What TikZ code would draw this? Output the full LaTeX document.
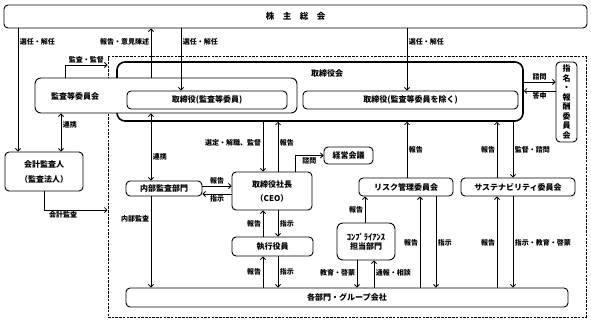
\documentclass[tikz,border=0pt]{standalone}
\usepackage{fontspec}
\setmainfont{Noto Sans CJK JP}
\usepackage{tikz}
\usetikzlibrary{arrows.meta}

\begin{document}
\begin{tikzpicture}[x=1pt, y=-1pt, >={Straight Barb[length=2.5pt,width=5pt]},
    box/.style={draw, rounded corners=4pt, fill=white, line width=0.9pt, inner sep=0pt, align=center, font=\bfseries\fontsize{8}{10}\selectfont},
    boxtxt/.style={inner sep=0pt, font=\bfseries\fontsize{8}{10}\selectfont},
    frame/.style={draw, dash pattern=on 2.5pt off 1.2pt, line width=1pt, inner sep=0pt},
    lbl/.style={inner sep=1.5pt, font=\bfseries\fontsize{7}{8}\selectfont},
    conn/.style={->, line width=0.8pt},
    both/.style={<->, line width=0.8pt}]
    \useasboundingbox (0,0) rectangle (591,321);

    % Nodes
    \node[box, minimum width=583pt, minimum height=23pt, font=\bfseries\fontsize{8.5}{10}\selectfont] (gms) at (295.5,16.5) {株　主　総　会};
    \node[frame, minimum width=478pt, minimum height=260pt] (grp) at (347,187) {};
    \node[box, line width=1.6pt, rounded corners=8pt, minimum width=406pt, minimum height=59pt] (board) at (320,91.5) {};
    \node[boxtxt] (boardname) at (327,73) {取締役会};
    \node[box, rounded corners=6pt, minimum width=262pt, minimum height=35pt] (ac) at (166,95.5) {};
    \node[boxtxt] (acname) at (75,96) {監査等委員会};
    \node[box, minimum width=160pt, minimum height=18pt] (acd) at (207,100) {取締役(監査等委員)};
    \node[box, minimum width=215pt, minimum height=18pt] (dir) at (410.5,100) {取締役(監査等委員を除く)};
    \node[box, minimum width=21pt, minimum height=80pt, font=\bfseries\fontsize{8}{9.5}\selectfont] (nom) at (566.5,102) {指\\名\\・\\報\\酬\\委\\員\\会};
    \node[box, minimum width=78pt, minimum height=39pt, font=\bfseries\fontsize{8}{15}\selectfont] (auditor) at (44,171.5) {会計監査人\\（監査法人）};
    \node[box, minimum width=76pt, minimum height=15pt] (ia) at (164,188.5) {内部監査部門};
    \node[box, minimum width=80pt, minimum height=38pt, font=\bfseries\fontsize{8}{14}\selectfont] (ceo) at (272,191) {取締役社長\\（CEO）};
    \node[box, minimum width=49pt, minimum height=17pt] (mgmt) at (348.5,155.5) {経営会議};
    \node[box, minimum width=81pt, minimum height=19pt] (exec) at (272.5,246.5) {執行役員};
    \node[box, minimum width=442pt, minimum height=19pt] (dept) at (347,297.5) {各部門・グループ会社};
    \node[box, minimum width=94pt, minimum height=18pt] (risk) at (406,187) {リスク管理委員会};
    \node[box, minimum width=114pt, minimum height=18pt] (sus) at (518,187) {サステナビリティ委員会};
    \node[box, rounded corners=6pt, minimum width=58pt, minimum height=37pt, font=\bfseries\fontsize{8}{9}\selectfont] (comp) at (366,241.5) {{\fontsize{8.5}{9}\selectfont ｺﾝﾌﾟﾗｲｱﾝｽ}\\担当部門};

    % Arrows
    \draw[conn] (gms.south -| 18,0) -- node[lbl, right, pos=0.11] {選任・解任} (auditor.north -| 18,0);
    \draw[conn] (ac.north -| 65,0) |- node[lbl, above, pos=0.75] {監査・監督} (grp.west |- 0,65);
    \draw[conn] (ac.north -| 151,0) -- node[lbl, left, pos=0.72] {報告・意見陳述} (gms.south -| 151,0);
    \draw[conn] (gms.south -| 181,0) -- node[lbl, right, pos=0.22] {選任・解任} (acd.north -| 181,0);
    \draw[conn] (gms.south -| 407,0) -- node[lbl, right, pos=0.22] {選任・解任} (dir.north -| 407,0);
    \draw[conn] (board.east |- 0,82) -- node[lbl, above] {諮問} (nom.west |- 0,82);
    \draw[conn] (nom.west |- 0,91) -- node[lbl, below] {答申} (board.east |- 0,91);
    \draw[both] (ac.south -| 61,0) -- node[lbl, right, pos=0.3] {連携} (auditor.north -| 61,0);
    \draw[both] (ac.south -| 151,0) -- node[lbl, right, pos=0.65] {連携} (ia.north -| 151,0);
    \draw[conn] (auditor.south -| 44,0) |- node[lbl, below, pos=0.65] {会計監査} (grp.west |- 0,210);
    \draw[conn] (ia.south -| 151,0) -- node[lbl, left, pos=0.25] {内部監査} (dept.north -| 151,0);
    \draw[conn] (ia.east |- 0,186) -- node[lbl, above] {報告} (ceo.west |- 0,186);
    \draw[conn] (ceo.west |- 0,194) -- node[lbl, below] {指示} (ia.east |- 0,194);
    \draw[conn] (board.south -| 263,0) -- node[lbl, left, pos=0.43] {選定・解職、監督} (ceo.north -| 263,0);
    \draw[conn] (ceo.north -| 278,0) -- node[lbl, right, pos=0.57] {報告} (board.south -| 278,0);
    \draw[conn] (ceo.north -| 295,0) |- node[lbl, below, pos=0.75] {諮問} (mgmt.west);
    \draw[conn] (exec.north -| 263,0) -- node[lbl, left] {報告} (ceo.south -| 263,0);
    \draw[conn] (ceo.south -| 278,0) -- node[lbl, right] {指示} (exec.north -| 278,0);
    \draw[conn] (dept.north -| 263,0) -- node[lbl, left] {報告} (exec.south -| 263,0);
    \draw[conn] (exec.south -| 278,0) -- node[lbl, right] {指示} (dept.north -| 278,0);
    \draw[conn] (risk.north -| 407,0) -- node[lbl, right] {報告} (board.south -| 407,0);
    \draw[conn] (sus.north -| 497,0) -- node[lbl, left] {報告} (board.south -| 497,0);
    \draw[conn] (board.south -| 513,0) -- node[lbl, right] {監督・諮問} (sus.north -| 513,0);
    \draw[conn] (comp.north -| 365,0) -- node[lbl, left] {報告} (risk.south -| 365,0);
    \draw[conn] (comp.south -| 357,0) -- node[lbl, left, pos=0.45] {教育・啓蒙} (dept.north -| 357,0);
    \draw[conn] (dept.north -| 374,0) -- node[lbl, right, pos=0.55] {通報・相談} (comp.south -| 374,0);
    \draw[conn] (dept.north -| 420,0) -- node[lbl, left, pos=0.49] {報告} (risk.south -| 420,0);
    \draw[conn] (risk.south -| 436,0) -- node[lbl, right, pos=0.51] {指示} (dept.north -| 436,0);
    \draw[conn] (dept.north -| 497,0) -- node[lbl, left, pos=0.49] {報告} (sus.south -| 497,0);
    \draw[conn] (sus.south -| 513,0) -- node[lbl, right, pos=0.51] {指示・教育・啓蒙} (dept.north -| 513,0);
\end{tikzpicture}
\end{document}
